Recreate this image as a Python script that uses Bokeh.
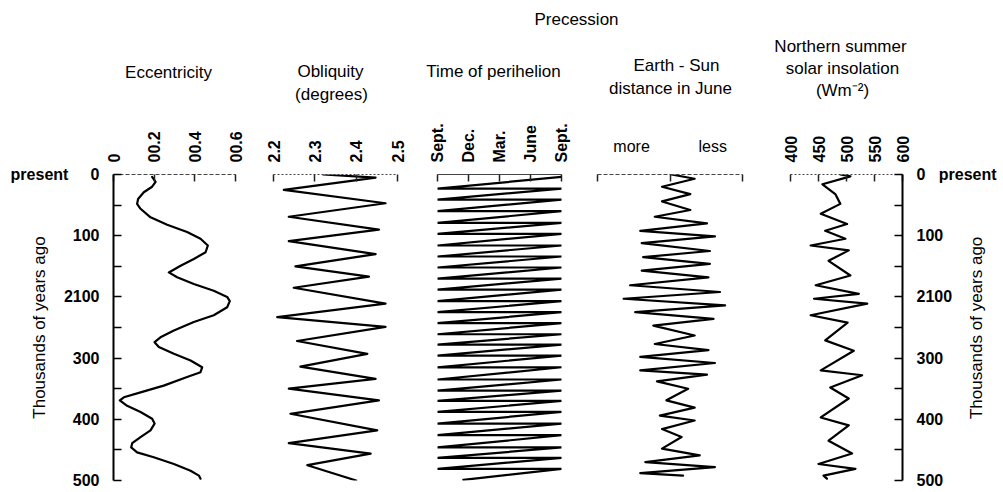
import math
from bokeh.plotting import figure
from bokeh.layouts import row, column
from bokeh.models import Range1d, LinearAxis, FixedTicker, Label
from bokeh.embed import file_html
from bokeh.resources import INLINE

# ---------------- data ----------------
kyr_ticks = [0, 100, 200, 300, 400, 500]
kyr_minor = [50, 150, 250, 350, 450]
kyr_tick_labels = ["0", "100", "2100", "300", "400", "500"]
present_word = "present"
kyr_title = "Thousands of years ago"

ecc_ticks = [0, 0.2, 0.4, 0.6]
ecc_tick_labels = ["0", "00.2", "00.4", "00.6"]
ecc_kyr = [4, 12, 20, 29, 40, 48, 56, 70, 82, 94, 105, 116, 127, 138, 149, 160, 168, 179,
           190, 200, 207, 217, 230, 241, 255, 266, 274, 282, 293, 304, 315, 323, 331, 345,
           356, 364, 369, 378, 388, 399, 407, 418, 429, 439, 446, 454, 462, 473, 484, 492, 497]
ecc_val = [0.190, 0.207, 0.190, 0.149, 0.121, 0.116, 0.133, 0.182, 0.264, 0.362, 0.428, 0.464,
           0.453, 0.395, 0.330, 0.272, 0.313, 0.395, 0.493, 0.559, 0.572, 0.559, 0.493, 0.395,
           0.297, 0.231, 0.202, 0.223, 0.297, 0.379, 0.436, 0.428, 0.362, 0.247, 0.133, 0.051,
           0.031, 0.067, 0.133, 0.190, 0.202, 0.182, 0.133, 0.092, 0.087, 0.116, 0.198, 0.297,
           0.379, 0.420, 0.428]

obl_ticks = [2.2, 2.3, 2.4, 2.5]
obl_tick_labels = ["2.2", "2.3", "2.4", "2.5"]
obl_kyr = [0, 5, 25, 47, 69, 90, 109, 130, 150, 167, 185, 211, 233, 249, 272, 293, 314, 334,
           350, 369, 391, 418, 439, 456, 475, 500]
obl_val = [2.32, 2.447, 2.225, 2.471, 2.237, 2.455, 2.237, 2.447, 2.253, 2.431, 2.249, 2.471,
           2.209, 2.471, 2.257, 2.427, 2.265, 2.447, 2.237, 2.455, 2.241, 2.451, 2.237, 2.435,
           2.282, 2.40]

peri_ticks = [0, 3, 6, 9, 12]
peri_tick_labels = ["Sept.", "Dec.", "Mar.", "June", "Sept."]
peri_start_kyr, peri_start_month = 4, 12
peri_wrap_kyr = [23, 41, 60, 79, 97, 116, 134, 152, 170, 188, 207, 225, 243, 261, 278, 296,
                 315, 335, 353, 370, 388, 407, 426, 446, 463, 481]
peri_end_kyr, peri_end_month = 499, 2.5

dist_ticks = [-1, 0, 1]
dist_words = ["more", "less"]
dist_word_pos = [-0.53, 0.59]
dist_kyr = [0, 7, 20, 32, 44, 58, 69, 80, 92, 101, 112, 125, 135, 146, 157, 168, 181, 192,
            203, 214, 225, 236, 247, 263, 277, 287, 298, 308, 320, 327, 338, 350, 369, 381,
            394, 402, 416, 429, 448, 459, 470, 478, 488, 492]
dist_val = [0.02, 0.34, -0.11, 0.28, -0.11, 0.28, -0.21, 0.51, -0.41, 0.62, -0.39, 0.55,
            -0.37, 0.55, -0.39, 0.53, -0.55, 0.69, -0.64, 0.76, -0.48, 0.60, -0.23, 0.34,
            -0.21, 0.53, -0.41, 0.62, -0.41, 0.51, -0.18, 0.25, -0.05, 0.34, -0.14, 0.34,
            -0.11, 0.16, -0.11, 0.41, -0.34, 0.62, -0.41, 0.18]

ins_ticks = [400, 450, 500, 550, 600]
ins_tick_labels = ["400", "450", "500", "550", "600"]
ins_kyr = [0, 3, 16, 32, 48, 64, 81, 92, 105, 116, 124, 141, 165, 181, 195, 203, 211, 230,
           242, 271, 288, 320, 328, 348, 366, 397, 410, 435, 456, 473, 481, 492, 497]
ins_val = [489, 507, 457, 480, 489, 454, 501, 462, 498, 436, 504, 468, 507, 445, 522, 442,
           537, 436, 502, 462, 513, 454, 528, 471, 504, 454, 504, 468, 510, 450, 516, 459, 465]

# ---------------- layout helpers ----------------
FONT = "Liberation Sans"
HDR = 112        # header height (titles)
H = 492 - HDR    # height of panel row
TOP = 174 - HDR  # space above frame inside the row
NB = "\u00a0"


def make_panel(w, bl, br, x0, x1):
    p = figure(width=w, height=H, x_range=Range1d(x0, x1), y_range=Range1d(500, 0),
               output_backend="svg", toolbar_location=None,
               x_axis_location=None, y_axis_location=None,
               min_border_left=bl, min_border_right=br,
               min_border_top=TOP, min_border_bottom=12)
    p.outline_line_color = None
    p.xgrid.grid_line_color = None
    p.ygrid.grid_line_color = None
    p.background_fill_color = "white"
    p.border_fill_color = "white"
    return p


def top_axis(p, ticks, labels, dash="solid", standoff=12):
    ax = LinearAxis(ticker=FixedTicker(ticks=ticks, minor_ticks=[]),
                    major_label_overrides={t: l for t, l in zip(ticks, labels)})
    ax.major_tick_in = 7
    ax.major_tick_out = 0
    ax.major_tick_line_color = "#222222"
    ax.major_tick_line_width = 1.5
    ax.minor_tick_in = 0
    ax.minor_tick_out = 0
    ax.major_label_orientation = math.pi / 2
    ax.major_label_standoff = standoff
    ax.major_label_text_font = FONT
    ax.major_label_text_font_size = "16px"
    ax.major_label_text_font_style = "bold"
    ax.major_label_text_color = "black"
    ax.axis_line_color = "#444444"
    ax.axis_line_width = 1
    ax.axis_line_dash = dash
    p.add_layout(ax, "above")
    return ax


def kyr_axis(labels, title, label_standoff):
    ax = LinearAxis(ticker=FixedTicker(ticks=kyr_ticks, minor_ticks=kyr_minor),
                    major_label_overrides={t: l for t, l in zip(kyr_ticks, labels)})
    if title:
        ax.axis_label = title
    ax.major_tick_in = 8
    ax.major_tick_out = 0
    ax.minor_tick_in = 8
    ax.minor_tick_out = 0
    ax.major_tick_line_width = 1.5
    ax.minor_tick_line_width = 1.5
    ax.axis_line_width = 2
    ax.major_label_standoff = 14
    ax.major_label_text_font = FONT
    ax.major_label_text_font_size = "16px"
    ax.major_label_text_font_style = "bold"
    ax.major_label_text_color = "black"
    ax.axis_label_text_font = FONT
    ax.axis_label_text_font_size = "17px"
    ax.axis_label_text_font_style = "normal"
    ax.axis_label_text_color = "black"
    ax.axis_label_standoff = label_standoff
    return ax


def curve(p, xs, ys):
    p.line(xs, ys, line_color="black", line_width=2.2, line_join="round", line_cap="round")


# ---- panel 1: eccentricity ----
p1 = make_panel(254, 113, 19, 0, 0.6)
top_axis(p1, ecc_ticks, ecc_tick_labels, dash="4 2")
left_labels = list(kyr_tick_labels)
left_labels[0] = present_word + NB * 5 + kyr_tick_labels[0]
p1.add_layout(kyr_axis(left_labels, kyr_title, -41), "left")
curve(p1, ecc_val, ecc_kyr)

# ---- panel 2: obliquity ----
p2 = make_panel(163, 19, 20, 2.2, 2.5)
top_axis(p2, obl_ticks, obl_tick_labels, dash="2 2")
curve(p2, obl_val, obl_kyr)

# ---- panel 3: time of perihelion ----
p3 = make_panel(162, 20, 18, 0, 12)
top_axis(p3, peri_ticks, peri_tick_labels)
peri_x = [peri_start_month]
peri_y = [peri_start_kyr]
for k in peri_wrap_kyr:
    peri_x += [0, 12]
    peri_y += [k, k]
peri_x.append(peri_end_month)
peri_y.append(peri_end_kyr)
curve(p3, peri_x, peri_y)

# ---- panel 4: Earth-Sun distance ----
p4 = make_panel(187, 18, 24, -1, 1)
axA = top_axis(p4, dist_ticks, ["", "", ""], dash="4 2", standoff=0)
axA.major_label_text_font_size = "0px"
axB = LinearAxis(ticker=FixedTicker(ticks=dist_word_pos, minor_ticks=[]),
                 major_label_overrides={t: l for t, l in zip(dist_word_pos, dist_words)})
axB.axis_line_color = None
axB.major_tick_line_color = None
axB.minor_tick_line_color = None
axB.major_label_standoff = 14
axB.major_label_orientation = "horizontal"
axB.major_label_text_font = FONT
axB.major_label_text_font_size = "16px"
axB.major_label_text_color = "black"
p4.add_layout(axB, "above")
curve(p4, dist_val, dist_kyr)

# ---- panel 5: insolation ----
p5 = make_panel(237, 24, 101, 400, 600)
top_axis(p5, ins_ticks, ins_tick_labels, dash="2 2")
right_labels = list(kyr_tick_labels)
right_labels[0] = kyr_tick_labels[0] + NB * 3 + present_word
p5.add_layout(kyr_axis(right_labels, None, 5), "right")
# second, invisible right axis that only carries the rotated title (reads upward)
rt = LinearAxis(ticker=FixedTicker(ticks=[], minor_ticks=[]))
rt.axis_line_color = None
rt.major_tick_line_color = None
rt.minor_tick_line_color = None
rt.major_label_text_font_size = "0px"
rt.axis_label_text_font = FONT
rt.axis_label_text_font_size = "17px"
rt.axis_label_text_font_style = "normal"
rt.axis_label_text_color = "black"
rt.axis_label_standoff = -23
aligned = False
try:
    rt.axis_label_orientation = math.pi / 2
    rt.axis_label_align = "end"
    aligned = True
except Exception:
    pass
rt.axis_label = (NB * 13 + kyr_title) if aligned else kyr_title
p5.add_layout(rt, "right")
curve(p5, ins_val, ins_kyr)

# ---- header with the panel titles ----
hdr = figure(width=1003, height=HDR, x_range=Range1d(0, 1003), y_range=Range1d(HDR, 0),
             output_backend="svg", toolbar_location=None,
             x_axis_location=None, y_axis_location=None, min_border=0)
hdr.outline_line_color = None
hdr.xgrid.grid_line_color = None
hdr.ygrid.grid_line_color = None
titles = [("Precession", 576, 19), ("Eccentricity", 168, 72),
          ("Obliquity", 330, 71), ("(degrees)", 331, 94),
          ("Time of perihelion", 493, 71),
          ("Earth - Sun", 676, 65), ("distance in June", 670, 88),
          ("Northern summer", 840, 46), ("solar insolation", 842, 68),
          ("(Wm\u207b\u00b2)", 842, 90)]
for t, x, y in titles:
    hdr.add_layout(Label(x=x, y=y, text=t, text_align="center", text_baseline="middle",
                         text_font=FONT, text_font_size="17px", text_color="black"))

layout = column(hdr, row(p1, p2, p3, p4, p5, spacing=0), spacing=0)
open("out.html", "w").write(file_html(layout, INLINE))
